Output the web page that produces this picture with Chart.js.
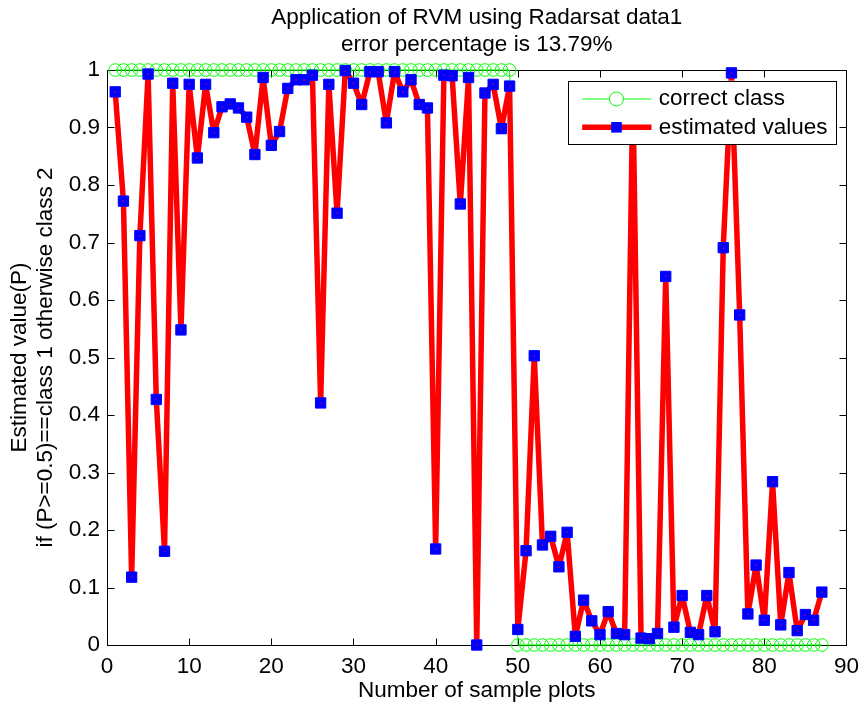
<!DOCTYPE html>
<html>
<head>
<meta charset="utf-8">
<script src="https://cdn.jsdelivr.net/npm/chart.js@4/dist/chart.umd.min.js"></script>
<style>
html,body{margin:0;padding:0;background:#fff;}
canvas{display:block;}
</style>
</head>
<body>
<canvas id="c" width="867" height="709" style="width:867px;height:709px"></canvas>
<script>
// ---- data ----
const sampleIndex = [1,2,3,4,5,6,7,8,9,10,11,12,13,14,15,16,17,18,19,20,21,22,23,24,25,26,27,28,29,30,
  31,32,33,34,35,36,37,38,39,40,41,42,43,44,45,46,47,48,49,50,51,52,53,54,55,56,57,58,59,60,
  61,62,63,64,65,66,67,68,69,70,71,72,73,74,75,76,77,78,79,80,81,82,83,84,85,86,87];

const correctClass = [1,1,1,1,1,1,1,1,1,1,1,1,1,1,1,1,1,1,1,1,1,1,1,1,1,1,1,1,1,1,
  1,1,1,1,1,1,1,1,1,1,1,1,1,1,1,1,1,1,1,0,0,0,0,0,0,0,0,0,0,0,
  0,0,0,0,0,0,0,0,0,0,0,0,0,0,0,0,0,0,0,0,0,0,0,0,0,0,0];

const estimatedValues = [0.962,0.772,0.118,0.712,0.993,0.427,0.163,0.977,0.548,0.975,
  0.847,0.975,0.891,0.936,0.941,0.934,0.918,0.853,0.987,0.869,
  0.893,0.968,0.983,0.983,0.991,0.421,0.975,0.751,0.999,0.977,
  0.940,0.997,0.997,0.908,0.997,0.962,0.983,0.940,0.934,0.167,
  0.991,0.990,0.767,0.987,0.000,0.960,0.975,0.898,0.972,0.027,
  0.164,0.503,0.174,0.189,0.136,0.196,0.015,0.078,0.042,0.018,
  0.058,0.020,0.018,0.970,0.012,0.011,0.020,0.641,0.031,0.086,
  0.022,0.018,0.086,0.023,0.691,0.995,0.574,0.054,0.139,0.043,
  0.284,0.035,0.126,0.025,0.053,0.043,0.092];

const xTickLabels = ['0','10','20','30','40','50','60','70','80','90'];
const yTickLabels = ['0','0.1','0.2','0.3','0.4','0.5','0.6','0.7','0.8','0.9','1'];

const titleLines = ['Application of RVM using Radarsat data1', 'error percentage is 13.79%'];
const yTitleLines = ['Estimated value(P)', 'if (P>=0.5)==class 1 otherwise class 2'];
const xTitle = 'Number of sample plots';
const seriesNames = ['correct class', 'estimated values'];

// ---- styling ----
const FONT = '"Liberation Sans", Arial, Helvetica, sans-serif';
const FSIZE = 22.5;
const LH = '27.7px';

const bgPlugin = {
  id: 'bg',
  beforeDraw(chart) {
    const ctx = chart.ctx;
    ctx.save();
    ctx.fillStyle = '#fff';
    ctx.fillRect(0, 0, chart.width, chart.height);
    ctx.restore();
  }
};

const framePlugin = {
  id: 'frame',
  beforeDatasetsDraw(chart) {
    const {ctx, chartArea: a, scales} = chart;
    const x = scales.x, y = scales.y;
    const L = Math.round(a.left) + 0.5, R = Math.round(a.right) + 0.5;
    const T = Math.round(a.top) + 0.5, B = Math.round(a.bottom) + 0.5;
    ctx.save();
    ctx.strokeStyle = '#000';
    ctx.lineWidth = 1;
    ctx.beginPath();
    ctx.rect(L, T, R - L, B - T);
    const tl = 7;
    x.ticks.forEach(t => {
      const px = Math.round(x.getPixelForValue(t.value)) + 0.5;
      ctx.moveTo(px, B); ctx.lineTo(px, B - tl);
      ctx.moveTo(px, T); ctx.lineTo(px, T + tl);
    });
    y.ticks.forEach(t => {
      const py = Math.round(y.getPixelForValue(t.value)) + 0.5;
      ctx.moveTo(L, py); ctx.lineTo(L + tl, py);
      ctx.moveTo(R, py); ctx.lineTo(R - tl, py);
    });
    ctx.stroke();
    ctx.restore();
  }
};

// small red dot in the centre of each marker (MATLAB look) + boxed legend
const legendPlugin = {
  id: 'boxLegend',
  afterDatasetsDraw(chart) {
    const {ctx, chartArea: a} = chart;
    const ds = chart.data.datasets;
    const ri = ds.findIndex(d => d.label === seriesNames[1]);
    const meta = chart.getDatasetMeta(ri);
    ctx.save();
    ctx.fillStyle = '#ff0000';
    meta.data.forEach(pt => { ctx.fillRect(Math.round(pt.x) - 0.5, Math.round(pt.y) - 0.5, 1.2, 1.2); });

    const bx = a.right - 278, by = a.top + 10.7, bw = 268, bh = 63.3;
    ctx.fillStyle = '#fff';
    ctx.fillRect(bx, by, bw, bh);
    ctx.strokeStyle = '#000';
    ctx.lineWidth = 1;
    ctx.strokeRect(Math.round(bx) + 0.5, Math.round(by) + 0.5, Math.round(bw), Math.round(bh));
    const rows = [by + 18.3, by + 46.6];
    const lx0 = bx + 13.7, lx1 = bx + 83, mx = bx + 48, tx = bx + 90.3;
    // row 1 : correct class
    const g = ds.find(d => d.label === seriesNames[0]);
    ctx.strokeStyle = g.borderColor; ctx.lineWidth = g.borderWidth;
    ctx.beginPath(); ctx.moveTo(lx0, rows[0]); ctx.lineTo(lx1, rows[0]); ctx.stroke();
    ctx.beginPath(); ctx.arc(mx, rows[0], 7, 0, Math.PI * 2);
    ctx.fillStyle = '#fff'; ctx.fill(); ctx.stroke();
    // row 2 : estimated values
    const r = ds[ri];
    ctx.strokeStyle = r.borderColor; ctx.lineWidth = r.borderWidth;
    ctx.beginPath(); ctx.moveTo(lx0, rows[1]); ctx.lineTo(lx1, rows[1]); ctx.stroke();
    ctx.fillStyle = r.pointBackgroundColor;
    ctx.fillRect(mx - 5.3, rows[1] - 5.3, 10.6, 10.6);
    // texts
    ctx.fillStyle = '#000';
    ctx.font = FSIZE + 'px ' + FONT;
    ctx.textBaseline = 'middle';
    ctx.textAlign = 'left';
    ctx.fillText(seriesNames[0], tx, rows[0]);
    ctx.fillText(seriesNames[1], tx, rows[1]);
    ctx.restore();
  }
};

const greenPts = sampleIndex.map((s, i) => ({x: s, y: correctClass[i]}));
const redPts = sampleIndex.map((s, i) => ({x: s, y: estimatedValues[i]}));

new Chart(document.getElementById('c'), {
  type: 'line',
  data: {
    datasets: [
      {
        label: seriesNames[0],
        data: greenPts,
        order: 2,
        borderColor: '#00ff00',
        borderWidth: 1,
        pointStyle: 'circle',
        pointRadius: 6.3,
        pointBorderWidth: 1,
        pointBorderColor: '#00ff00',
        pointBackgroundColor: 'rgba(0,0,0,0)',
        tension: 0,
        fill: false,
        clip: false
      },
      {
        label: seriesNames[1],
        data: redPts,
        order: 1,
        borderColor: '#ff0000',
        borderWidth: 5.5,
        borderJoinStyle: 'round',
        borderCapStyle: 'round',
        pointStyle: 'rect',
        pointRadius: 7.3,
        pointBorderWidth: 1,
        pointBorderColor: '#0000ff',
        pointBackgroundColor: '#0000ff',
        tension: 0,
        fill: false,
        clip: false
      }
    ]
  },
  options: {
    responsive: false,
    animation: false,
    devicePixelRatio: 1,
    layout: { padding: { left: 0, right: 16, top: 0, bottom: 0 } },
    plugins: {
      legend: { display: false },
      tooltip: { enabled: false },
      title: {
        display: true,
        fullSize: false,
        text: titleLines,
        color: '#000',
        font: { family: FONT, size: FSIZE, weight: 'normal', lineHeight: LH },
        padding: { top: 3.5, bottom: 11.1 }
      }
    },
    scales: {
      x: {
        type: 'linear',
        min: 0, max: 90,
        grid: { display: false, drawTicks: false },
        border: { display: false },
        ticks: {
          stepSize: 10,
          autoSkip: false,
          maxRotation: 0,
          padding: 8,
          color: '#000',
          font: { family: FONT, size: FSIZE },
          callback: (v) => { const i = Math.round(v / 10); return xTickLabels[i]; }
        },
        title: {
          display: true,
          text: xTitle,
          color: '#000',
          font: { family: FONT, size: FSIZE, lineHeight: LH },
          padding: { top: 0, bottom: 4 }
        },
        afterFit: (s) => { s.height = 64; }
      },
      y: {
        type: 'linear',
        min: 0, max: 1,
        grid: { display: false, drawTicks: false },
        border: { display: false },
        ticks: {
          stepSize: 0.1,
          autoSkip: false,
          padding: 7,
          color: '#000',
          font: { family: FONT, size: FSIZE },
          callback: (v) => { const i = Math.round(v * 10); return yTickLabels[i]; }
        },
        title: {
          display: true,
          text: yTitleLines,
          color: '#000',
          font: { family: FONT, size: FSIZE, lineHeight: '26px' },
          padding: { top: 7, bottom: 0 }
        },
        afterFit: (s) => { s.width = 107; }
      }
    }
  },
  plugins: [bgPlugin, framePlugin, legendPlugin]
});
</script>
</body>
</html>
